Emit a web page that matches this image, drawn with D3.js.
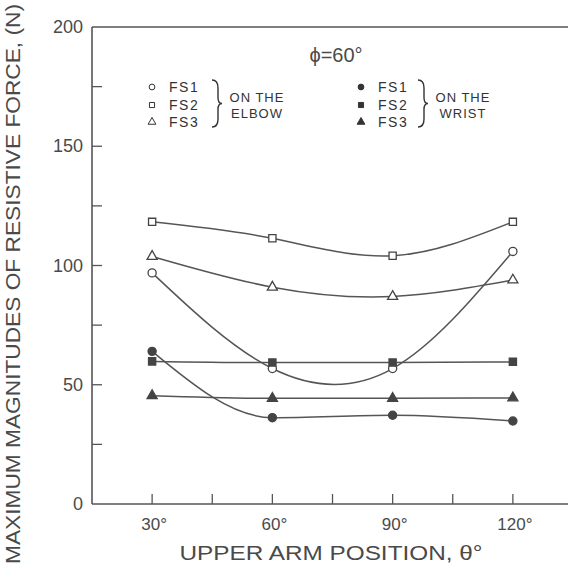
<!DOCTYPE html>
<html>
<head>
<meta charset="utf-8">
<script src="https://cdn.jsdelivr.net/npm/d3@7"></script>
<style>
  html, body { margin: 0; padding: 0; background: #fff; }
  svg { display: block; font-family: "Liberation Sans", Arial, sans-serif; }
</style>
</head>
<body>
<div id="chart"></div>
<script>
// Upper arm positions (degrees) and peak resistive force (N)
const positions = [30, 60, 90, 120];
const fs1Elbow = [96.9, 56.8, 56.8, 105.9];
const fs2Elbow = [118.3, 111.4, 104.1, 118.3];
const fs3Elbow = [103.8, 90.9, 87.0, 93.9];
const fs1Wrist = [64.0, 36.2, 37.2, 34.8];
const fs2Wrist = [59.8, 59.3, 59.3, 59.6];
const fs3Wrist = [45.4, 44.3, 44.3, 44.5];

const xTicks = [15, 30, 45, 60, 75, 90, 105, 120, 135];
const xTickLabels = [30, 60, 90, 120];
const yTicks = [25, 50, 75, 100, 125, 150, 175, 200];
const yTickLabels = [0, 50, 100, 150, 200];

(function () {
  const W = 568, H = 572;
  const ink = "#555";
  const txt = "#4a4a4a";

  const svg = d3.select("#chart").append("svg")
    .attr("width", W).attr("height", H);

  const x = d3.scaleLinear().domain([15, 135]).range([92, 573]);
  const y = d3.scaleLinear().domain([0, 200]).range([504, 27]);

  // frame: left, top, bottom (runs off the right edge)
  svg.append("line").attr("x1", x(15)).attr("x2", x(15)).attr("y1", y(0)).attr("y2", y(200))
    .attr("stroke", ink).attr("stroke-width", 1.6);
  svg.append("line").attr("x1", x(15)).attr("x2", W).attr("y1", y(200)).attr("y2", y(200))
    .attr("stroke", ink).attr("stroke-width", 1.6);
  svg.append("line").attr("x1", x(15)).attr("x2", W).attr("y1", y(0)).attr("y2", y(0))
    .attr("stroke", ink).attr("stroke-width", 1.6);

  // inward ticks
  svg.append("g").selectAll("line").data(yTicks.filter(d => d < 200)).enter().append("line")
    .attr("x1", x(15)).attr("x2", x(15) + 10)
    .attr("y1", d => y(d)).attr("y2", d => y(d))
    .attr("stroke", ink).attr("stroke-width", 1.3);
  svg.append("g").selectAll("line").data(xTicks.filter(d => d > 15 && d < 135)).enter().append("line")
    .attr("x1", d => x(d)).attr("x2", d => x(d))
    .attr("y1", y(0)).attr("y2", y(0) - 10)
    .attr("stroke", ink).attr("stroke-width", 1.3);

  // tick labels
  svg.append("g").selectAll("text").data(yTickLabels).enter().append("text")
    .attr("x", 83).attr("y", d => y(d) + 6)
    .attr("text-anchor", "end")
    .style("font-size", "18px").style("fill", txt)
    .text(d => d);
  svg.append("g").selectAll("text").data(xTickLabels).enter().append("text")
    .attr("x", d => x(d) + 2).attr("y", 530)
    .attr("text-anchor", "middle")
    .style("font-size", "17px").style("fill", txt)
    .text(d => d + "°");

  // axis titles
  svg.append("text")
    .attr("transform", "translate(20,284) rotate(-90)")
    .attr("text-anchor", "middle")
    .attr("textLength", 560).attr("lengthAdjust", "spacingAndGlyphs")
    .style("font-size", "20px").style("fill", txt)
    .text("MAXIMUM MAGNITUDES OF RESISTIVE FORCE, (N)");
  svg.append("text")
    .attr("x", 331).attr("y", 560)
    .attr("text-anchor", "middle")
    .attr("textLength", 303).attr("lengthAdjust", "spacingAndGlyphs")
    .style("font-size", "20px").style("fill", txt)
    .text("UPPER ARM POSITION, θ°");

  svg.append("text")
    .attr("x", 336).attr("y", 62)
    .attr("text-anchor", "middle")
    .style("font-size", "20px").style("fill", txt)
    .text("ϕ=60°");

  // series — elbow curves are natural splines, wrist curves stay monotone
  const series = [
    { values: fs2Elbow, shape: d3.symbolSquare, filled: false, curve: d3.curveNatural },
    { values: fs3Elbow, shape: d3.symbolTriangle, filled: false, curve: d3.curveNatural },
    { values: fs1Elbow, shape: d3.symbolCircle, filled: false, curve: d3.curveNatural },
    { values: fs2Wrist, shape: d3.symbolSquare, filled: true, curve: d3.curveMonotoneX },
    { values: fs3Wrist, shape: d3.symbolTriangle, filled: true, curve: d3.curveMonotoneX },
    { values: fs1Wrist, shape: d3.symbolCircle, filled: true, curve: d3.curveMonotoneX },
  ];

  const symSize = s => s === d3.symbolTriangle ? 44 : 52;

  series.forEach(s => {
    const line = d3.line()
      .x((d, i) => x(positions[i]))
      .y(d => y(d))
      .curve(s.curve);
    svg.append("path").datum(s.values)
      .attr("d", line)
      .attr("fill", "none").attr("stroke", ink).attr("stroke-width", 1.5);
  });
  series.forEach(s => {
    svg.append("g").selectAll("path").data(s.values).enter().append("path")
      .attr("transform", (d, i) => `translate(${x(positions[i])},${y(d)})`)
      .attr("d", d3.symbol().type(s.shape).size(symSize(s.shape)))
      .attr("fill", s.filled ? "#444" : "#fff")
      .attr("stroke", "#444").attr("stroke-width", 1.3);
  });

  // legends
  const legendNames = ["FS1", "FS2", "FS3"];
  const legendShapes = [d3.symbolCircle, d3.symbolSquare, d3.symbolTriangle];
  const legendRows = [87, 105, 122];

  function legend(mx, tx, bx, filled, words) {
    const g = svg.append("g");
    legendNames.forEach((n, i) => {
      g.append("path")
        .attr("transform", `translate(${mx},${legendRows[i]})`)
        .attr("d", d3.symbol().type(legendShapes[i]).size(26))
        .attr("fill", filled ? "#333" : "#fff")
        .attr("stroke", "#333").attr("stroke-width", 1);
      g.append("text").attr("x", tx).attr("y", legendRows[i] + 5)
        .style("font-size", "14px").style("fill", "#333").style("letter-spacing", "1.5px")
        .text(n);
    });
    // curly brace
    const t = 80, b = 127, m = (t + b) / 2;
    g.append("path")
      .attr("d", `M${bx},${t} Q${bx + 6},${t} ${bx + 6},${t + 8} L${bx + 6},${m - 6} Q${bx + 6},${m} ${bx + 10},${m}` +
        ` Q${bx + 6},${m} ${bx + 6},${m + 6} L${bx + 6},${b - 8} Q${bx + 6},${b} ${bx},${b}`)
      .attr("fill", "none").attr("stroke", "#333").attr("stroke-width", 1.4);
    words.forEach((w, i) => {
      g.append("text").attr("x", bx + 45).attr("y", 102 + i * 16)
        .attr("text-anchor", "middle")
        .style("font-size", "13px").style("fill", "#333").style("letter-spacing", "1px")
        .text(w);
    });
  }
  legend(152, 169, 212, false, ["ON THE", "ELBOW"]);
  legend(361, 378, 418, true, ["ON THE", "WRIST"]);
})();
</script>
</body>
</html>
